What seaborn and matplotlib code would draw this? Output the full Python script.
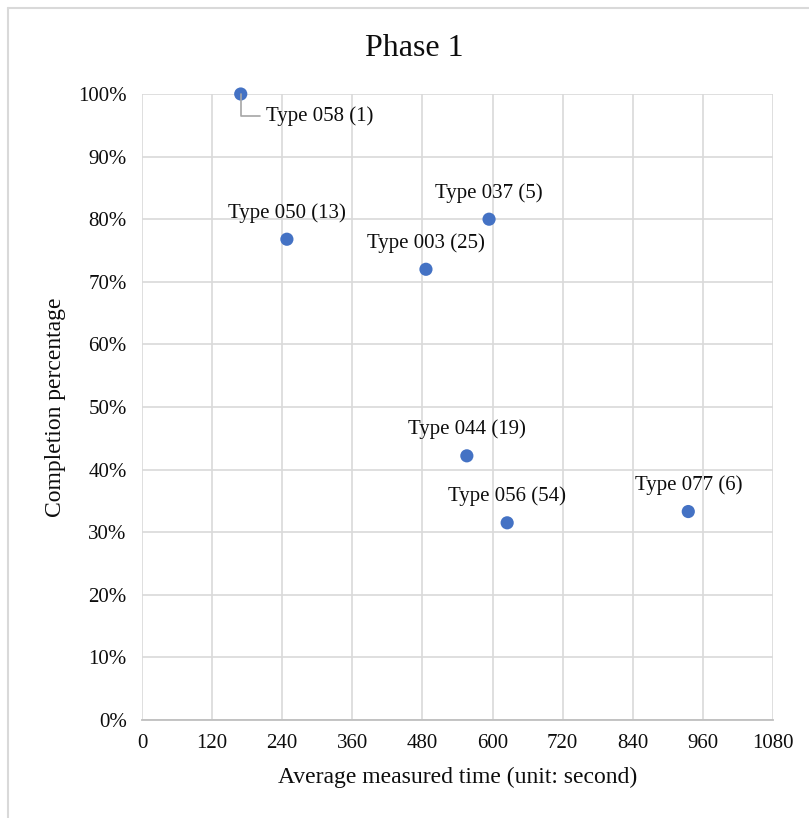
import numpy as np
import pandas as pd
import matplotlib
matplotlib.use("Agg")
import matplotlib.pyplot as plt
import seaborn as sns
from matplotlib.lines import Line2D
from matplotlib.ticker import FuncFormatter

# data
types = ["Type 058 (1)", "Type 050 (13)", "Type 003 (25)", "Type 037 (5)",
         "Type 044 (19)", "Type 056 (54)", "Type 077 (6)"]
avg_time = [169, 248, 486, 594, 556, 625, 935]
completion = [1.00, 0.768, 0.72, 0.80, 0.422, 0.315, 0.333]

x_ticks = list(range(0, 1081, 120))
y_ticks = [i / 10 for i in range(0, 11)]

df = pd.DataFrame({"type": types, "time": avg_time, "pct": completion})

sns.set_theme(style="whitegrid")
plt.rcParams["font.family"] = ["Liberation Serif", "DejaVu Serif"]
plt.rcParams["text.color"] = "#0D0D0D"
plt.rcParams["axes.labelcolor"] = "#0D0D0D"

fig = plt.figure(figsize=(8.09, 8.18), dpi=100)
ax = fig.add_axes([142 / 809, 1 - 720 / 818, 631 / 809, 626 / 818])

sns.scatterplot(data=df, x="time", y="pct", ax=ax, color="#4472C4",
                s=90, edgecolor="none", zorder=3, clip_on=False)

ax.set_xlim(0, 1080)
ax.set_ylim(0, 1)
ax.set_xticks(x_ticks)
ax.set_yticks(y_ticks)
ax.yaxis.set_major_formatter(FuncFormatter(lambda v, p: f"{v*100:.0f}%"))
ax.tick_params(axis="y", labelsize=15, colors="#0D0D0D", length=0, pad=11)
ax.tick_params(axis="x", labelsize=15, colors="#0D0D0D", length=0, pad=10)
ax.grid(True, color="#D9D9D9", linewidth=1.2)
for side in ["top", "right"]:
    ax.spines[side].set_visible(False)
ax.spines["left"].set_visible(False)
ax.spines["bottom"].set_color("#BFBFBF")
ax.spines["bottom"].set_linewidth(1.3)

ax.set_xlabel("Average measured time (unit: second)", fontsize=17, labelpad=10)
ax.set_ylabel("Completion percentage", fontsize=17, labelpad=9)
fig.text(414 / 809, 1 - 49 / 818, "Phase 1", ha="center",
         va="center", fontsize=23)

# labels: most above the point, Type 058 off to the lower right with a leader
offsets = {
    "Type 058 (1)": (18, -16),
    "Type 050 (13)": (0, 19),
    "Type 003 (25)": (0, 19),
    "Type 037 (5)": (0, 19),
    "Type 044 (19)": (0, 19),
    "Type 056 (54)": (0, 19),
    "Type 077 (6)": (0, 19),
}
for t, xv, yv in zip(types, avg_time, completion):
    dx, dy = offsets[t]
    if t == "Type 058 (1)":
        ax.annotate(t, (xv, yv), xytext=(dx, dy), textcoords="offset points",
                    ha="left", va="center", fontsize=15, annotation_clip=False,
                    arrowprops=dict(arrowstyle="-", color="#A6A6A6", lw=1.2,
                                    connectionstyle="angle,angleA=0,angleB=90,rad=0",
                                    shrinkA=2, shrinkB=0))
    else:
        ax.annotate(t, (xv, yv), xytext=(dx, dy), textcoords="offset points",
                    ha="center", va="center", fontsize=15, annotation_clip=False)

# outer chart frame (left and top)
fig.add_artist(Line2D([8 / 809, 8 / 809], [0, 1 - 8 / 818], color="#D9D9D9",
                      lw=1.5, transform=fig.transFigure))
fig.add_artist(Line2D([8 / 809, 1], [1 - 8 / 818, 1 - 8 / 818], color="#D9D9D9",
                      lw=1.5, transform=fig.transFigure))

fig.savefig("out.png", dpi=100, facecolor="white")
